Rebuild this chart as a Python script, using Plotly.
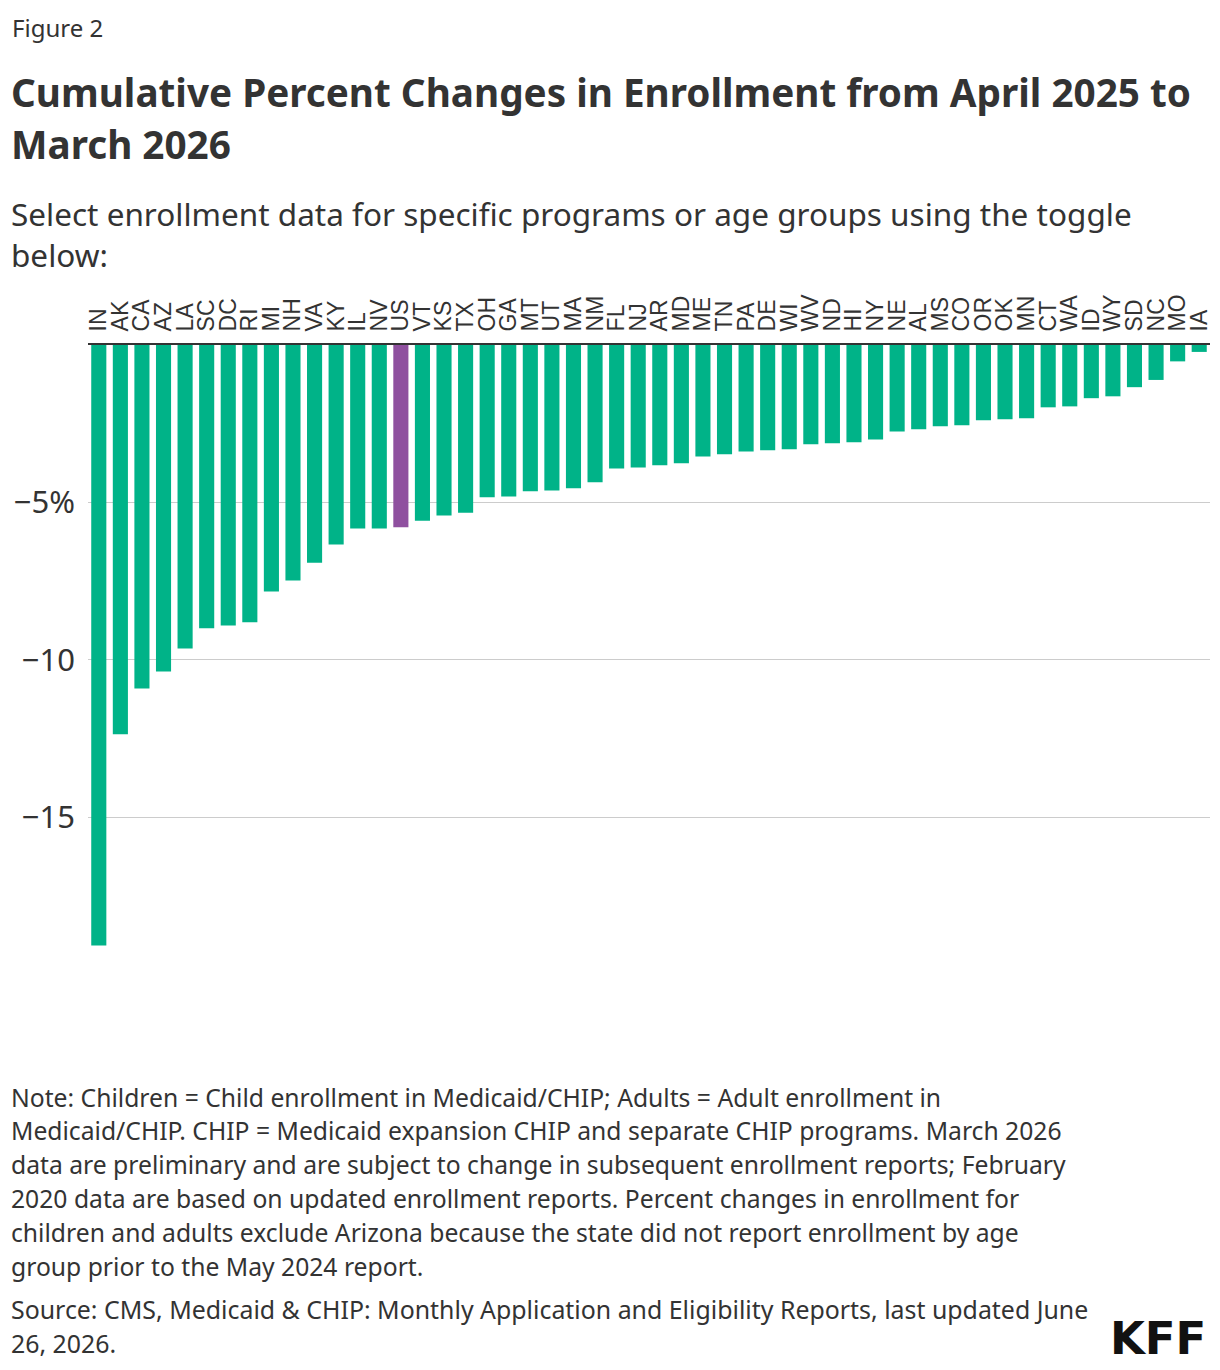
import plotly.graph_objects as go

# ---- data ----
states = ["IN", "AK", "CA", "AZ", "LA", "SC", "DC", "RI", "MI", "NH", "VA", "KY", "IL", "NV",
          "US", "VT", "KS", "TX", "OH", "GA", "MT", "UT", "MA", "NM", "FL", "NJ", "AR", "MD",
          "ME", "TN", "PA", "DE", "WI", "WV", "ND", "HI", "NY", "NE", "AL", "MS", "CO", "OR",
          "OK", "MN", "CT", "WA", "ID", "WY", "SD", "NC", "MO", "IA"]
pct_change = [-19.08, -12.37, -10.91, -10.37, -9.64, -9.00, -8.91, -8.81, -7.83, -7.48,
              -6.92, -6.34, -5.83, -5.83, -5.79, -5.58, -5.42, -5.33, -4.84, -4.81,
              -4.65, -4.62, -4.55, -4.36, -3.92, -3.89, -3.82, -3.76, -3.54, -3.47,
              -3.38, -3.34, -3.31, -3.15, -3.12, -3.09, -3.00, -2.75, -2.68, -2.58,
              -2.55, -2.39, -2.36, -2.33, -1.98, -1.95, -1.69, -1.63, -1.34, -1.11,
              -0.52, -0.22]
y_tickvals = [-5, -10, -15]
y_ticktext = ["\u22125%", "\u221210", "\u221215"]

title_lines = ["Cumulative Percent Changes in Enrollment from April 2025 to", "March 2026"]
subtitle_lines = ["Select enrollment data for specific programs or age groups using the toggle",
                  "below:"]
note_lines = [
    "Note: Children = Child enrollment in Medicaid/CHIP; Adults = Adult enrollment in",
    "Medicaid/CHIP. CHIP = Medicaid expansion CHIP and separate CHIP programs. March 2026",
    "data are preliminary and are subject to change in subsequent enrollment reports; February",
    "2020 data are based on updated enrollment reports. Percent changes in enrollment for",
    "children and adults exclude Arizona because the state did not report enrollment by age",
    "group prior to the May 2024 report.",
]
source_lines = ["Source: CMS, Medicaid & CHIP: Monthly Application and Eligibility Reports, last updated June",
                "26, 2026."]

GREEN = "#00b388"
PURPLE = "#8f509f"
TEXT = "#333333"
FONT = "Noto Sans"

colors = [PURPLE if s == "US" else GREEN for s in states]

W, H = 1220, 1370
L, R, T, B = 88, 8, 345, 364
PW, PH = W - L - R, H - T - B


def px(x):
    return (x - L) / PW


def py(y):
    return (H - B - y) / PH


fig = go.Figure(go.Bar(x=states, y=pct_change, marker=dict(color=colors, line=dict(width=0)),
                       hoverinfo="x+y"))

fig.update_layout(
    width=W, height=H,
    margin=dict(l=L, r=R, t=T, b=B, pad=0),
    paper_bgcolor="white", plot_bgcolor="white",
    bargap=0.3,
    showlegend=False,
    font=dict(family=FONT, color=TEXT),
)
fig.update_xaxes(
    side="top", tickangle=-90, showgrid=False, showline=True, linecolor="#333333", linewidth=2,
    ticks="", tickmode="array", tickvals=states, ticktext=states,
    tickfont=dict(family="Liberation Sans", size=23, color="#333333"),
    ticklabelstandoff=7, fixedrange=True,
)
fig.update_yaxes(
    range=[-21, 0], tickvals=y_tickvals, ticktext=y_ticktext, showgrid=True,
    gridcolor="#cccccc", gridwidth=1, zeroline=False, showline=False, ticks="",
    tickfont=dict(family=FONT, size=31, color=TEXT), ticklabelstandoff=12, fixedrange=True,
)

ann = []


def add(text, x, y, size, bold=False, color=TEXT, xanchor="left", family=FONT):
    ann.append(dict(text=("<b>%s</b>" % text) if bold else text, x=px(x), y=py(y), xref="paper",
                    yref="paper", xanchor=xanchor, yanchor="middle", showarrow=False,
                    font=dict(family=family, size=size, color=color), align="left"))


add("Figure 2", 10, 27, 24)
for i, t in enumerate(title_lines):
    add(t, 9, 92 + 52 * i, 38.7, bold=True)
for i, t in enumerate(subtitle_lines):
    add(t, 9, 213 + 41 * i, 31.5)
for i, t in enumerate(note_lines):
    add(t, 9, 1097 + 33.8 * i, 24.7)
for i, t in enumerate(source_lines):
    add(t, 9, 1309 + 34 * i, 24.9)
add("KFF", 1210, 1338, 45, bold=True, color="#111111", xanchor="right", family="DejaVu Sans")

fig.update_layout(annotations=ann)
fig.write_html("out.html", config={"displayModeBar": False})
